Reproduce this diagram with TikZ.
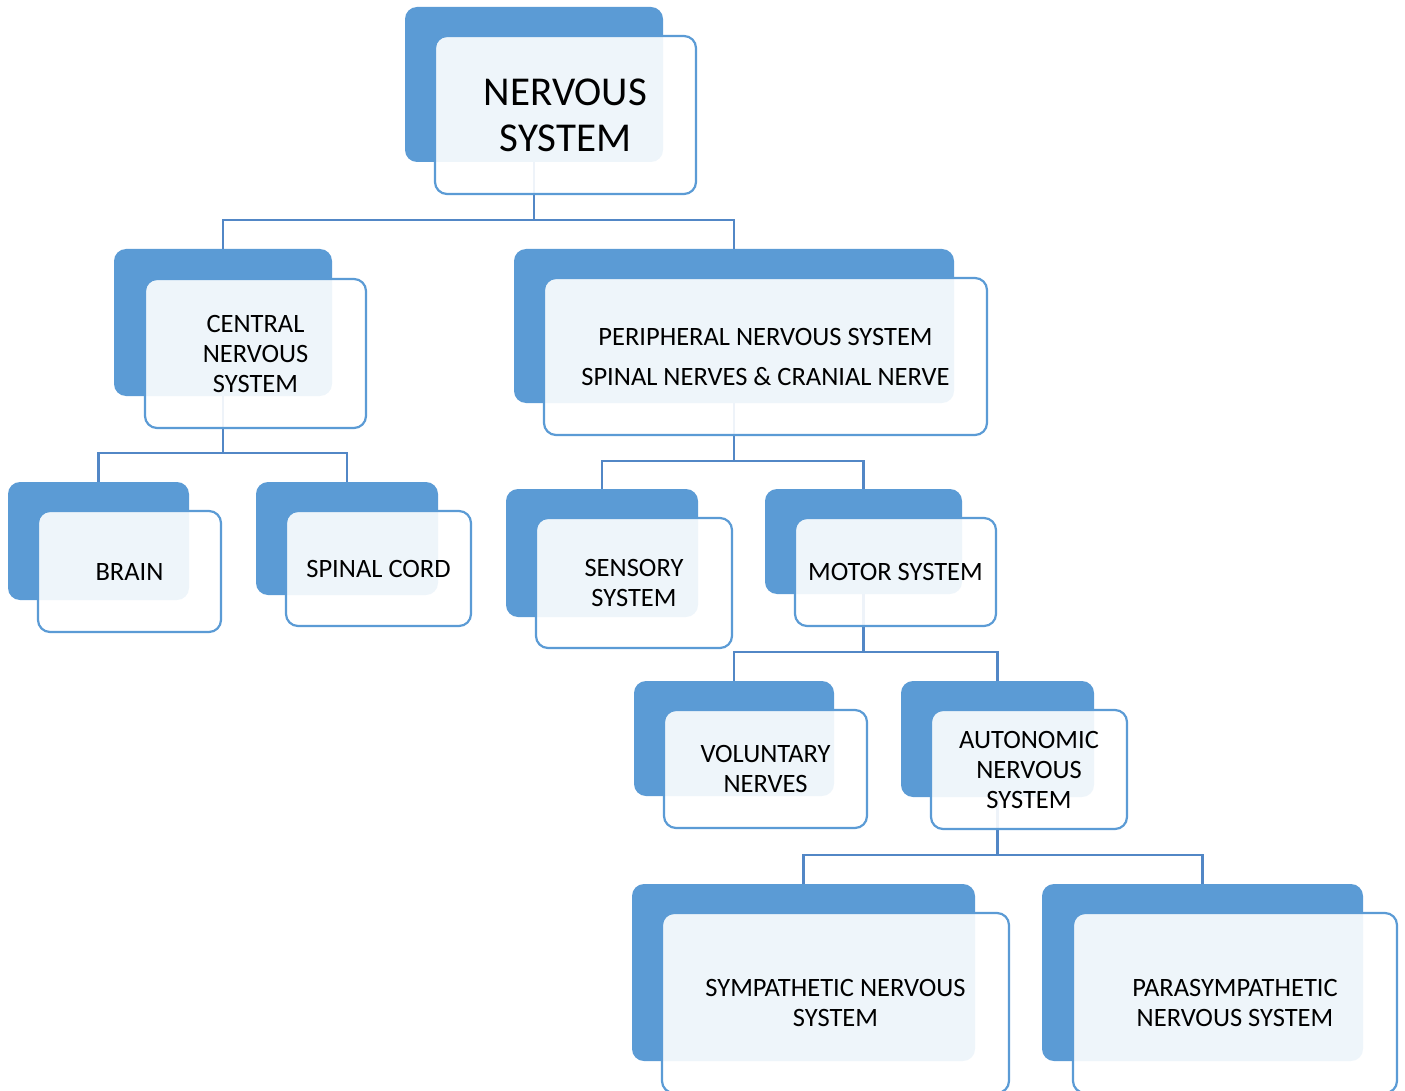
\documentclass[tikz,border=0pt]{standalone}
\usepackage{fontspec}
\setmainfont{Carlito}
\definecolor{accblue}{HTML}{5B9BD5}
\definecolor{lineblue}{HTML}{5287C6}
\tikzset{
  backbox/.style={draw=none, fill=accblue, rounded corners=12pt, anchor=north west, inner sep=0pt, outer sep=0pt},
  frontbox/.style={draw=accblue, line width=2.2pt, fill=white, fill opacity=0.9, text opacity=1, rounded corners=12pt, anchor=north west, inner sep=0pt, outer sep=0pt, align=center, font=\fontsize{26.5}{30}\selectfont},
  conn/.style={draw=lineblue, line width=2.5pt},
}
\begin{document}
\begin{tikzpicture}[x=1pt, y=-1pt]
\clip (0,0) rectangle (1405,1091);
\useasboundingbox (0,0) rectangle (1405,1091);
% back boxes
\node[backbox, minimum width=258pt, minimum height=155pt] (nsB) at (405,7) {};
\node[backbox, minimum width=218pt, minimum height=147pt] (cnsB) at (114,249) {};
\node[backbox, minimum width=181pt, minimum height=118pt] (brB) at (8,482) {};
\node[backbox, minimum width=182pt, minimum height=113pt] (scB) at (256,482) {};
\node[backbox, minimum width=440pt, minimum height=154pt] (pnsB) at (514,249) {};
\node[backbox, minimum width=192pt, minimum height=128pt] (seB) at (506,489) {};
\node[backbox, minimum width=197pt, minimum height=105pt] (moB) at (765,489) {};
\node[backbox, minimum width=200pt, minimum height=115pt] (voB) at (634,681) {};
\node[backbox, minimum width=193pt, minimum height=116pt] (auB) at (901,681) {};
\node[backbox, minimum width=343pt, minimum height=177pt] (syB) at (632,884) {};
\node[backbox, minimum width=321pt, minimum height=177pt] (paB) at (1042,884) {};
% connectors
\draw[conn] (nsB.south) -- ++(0,58) -| (cnsB.north);
\draw[conn] (nsB.south) -- ++(0,58) -| (pnsB.north);
\draw[conn] (cnsB.south) -- ++(0,57) -| (brB.north);
\draw[conn] (cnsB.south) -- ++(0,57) -| (scB.north);
\draw[conn] (pnsB.south) -- ++(0,58) -| (seB.north);
\draw[conn] (pnsB.south) -- ++(0,58) -| (moB.north);
\draw[conn] (moB.south) -- ++(0,58) -| (voB.north);
\draw[conn] (moB.south) -- ++(0,58) -| (auB.north);
\draw[conn] (auB.south) -- ++(0,58) -| (syB.north);
\draw[conn] (auB.south) -- ++(0,58) -| (paB.north);
% front boxes
\node[frontbox, minimum width=261pt, minimum height=158pt, font=\fontsize{41}{46}\selectfont] (ns) at (435,36) {NERVOUS\\SYSTEM};
\node[frontbox, minimum width=221pt, minimum height=149pt] (cns) at (145,279) {CENTRAL\\NERVOUS\\SYSTEM};
\node[frontbox, minimum width=183pt, minimum height=121pt] (br) at (38,511) {BRAIN};
\node[frontbox, minimum width=185pt, minimum height=115pt] (sc) at (286,511) {SPINAL CORD};
\node[frontbox, minimum width=443pt, minimum height=157pt] (pns) at (544,278) {PERIPHERAL NERVOUS SYSTEM\\[10pt]SPINAL NERVES \& CRANIAL NERVE};
\node[frontbox, minimum width=196pt, minimum height=130pt] (se) at (536,518) {SENSORY\\SYSTEM};
\node[frontbox, minimum width=201pt, minimum height=108pt] (mo) at (795,518) {MOTOR SYSTEM};
\node[frontbox, minimum width=203pt, minimum height=118pt] (vo) at (664,710) {VOLUNTARY\\NERVES};
\node[frontbox, minimum width=196pt, minimum height=119pt] (au) at (931,710) {AUTONOMIC\\NERVOUS\\SYSTEM};
\node[frontbox, minimum width=347pt, minimum height=180pt] (sy) at (662,913) {SYMPATHETIC NERVOUS\\SYSTEM};
\node[frontbox, minimum width=324pt, minimum height=180pt] (pa) at (1073,913) {PARASYMPATHETIC\\NERVOUS SYSTEM};
\end{tikzpicture}
\end{document}
